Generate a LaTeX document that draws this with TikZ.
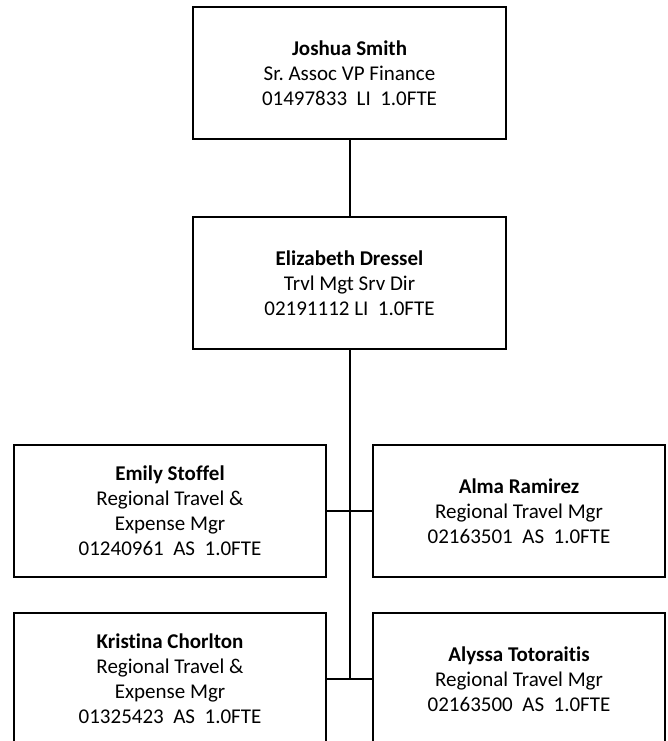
\documentclass[tikz,border=0pt]{standalone}
\usepackage{fontspec}
\setmainfont{Carlito}[Ligatures=NoCommon]
\begin{document}
\begin{tikzpicture}[x=1pt,y=-1pt,
  orgbox/.style={draw=black, line width=2.8pt, rectangle, inner sep=0pt, align=center,
    font=\fontsize{21}{25}\selectfont\frenchspacing},
  link/.style={draw=black, line width=2pt}]
\useasboundingbox (0,0) rectangle (668,741);
\clip (0,0) rectangle (668,741);
\node[orgbox, minimum width=313, minimum height=132] (js) at (349.5,73)
  {\textbf{Joshua Smith}\\Sr. Assoc VP Finance\\01497833\ \ LI\ \ 1.0FTE};
\node[orgbox, minimum width=313, minimum height=132] (ed) at (349.5,283)
  {\textbf{Elizabeth Dressel}\\Trvl Mgt Srv Dir\\02191112 LI\ \ 1.0FTE};
\node[orgbox, minimum width=312, minimum height=132] (es) at (170,511)
  {\textbf{Emily Stoffel}\\Regional Travel \&\\Expense Mgr\\01240961\ \ AS\ \ 1.0FTE};
\node[orgbox, minimum width=292, minimum height=132] (ar) at (519,511)
  {\textbf{Alma Ramirez}\\Regional Travel Mgr\\02163501\ \ AS\ \ 1.0FTE};
\node[orgbox, minimum width=312, minimum height=132] (kc) at (170,679)
  {\textbf{Kristina Chorlton}\\Regional Travel \&\\Expense Mgr\\01325423\ \ AS\ \ 1.0FTE};
\node[orgbox, minimum width=292, minimum height=132] (at) at (519,679)
  {\textbf{Alyssa Totoraitis}\\Regional Travel Mgr\\02163500\ \ AS\ \ 1.0FTE};
\coordinate (trunkend) at (ed.south |- kc.east);
\draw[link] (js.south) -- (ed.north);
\draw[link] (ed.south) -- (trunkend);
\draw[link] (es.east) -- (ar.west);
\draw[link] (kc.east) -- (at.west);
\end{tikzpicture}
\end{document}
